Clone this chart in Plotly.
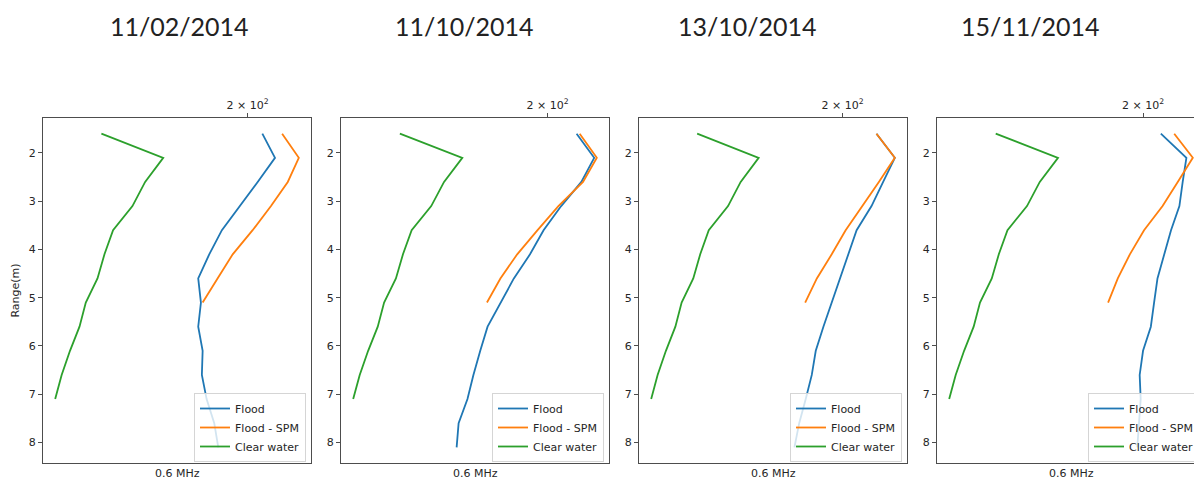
import math
import plotly.graph_objects as go

# ---- data -------------------------------------------------------------
dates = ["11/02/2014", "11/10/2014", "13/10/2014", "15/11/2014"]

depth_flood = [1.6, 2.1, 2.6, 3.1, 3.6, 4.1, 4.6, 5.1, 5.6, 6.1, 6.6, 7.1, 7.6, 8.1]
depth_spm = [1.6, 2.1, 2.6, 3.1, 3.6, 4.1, 4.6, 5.1]
depth_clear = [1.6, 2.1, 2.6, 3.1, 3.6, 4.1, 4.6, 5.1, 5.6, 6.1, 6.6, 7.1]

clear_water = [128.9, 155.2, 147.0, 141.5, 133.5, 130.1, 127.4, 123.0, 120.7, 117.3, 114.4, 112.2]

flood_0211 = [209.0, 217.1, 206.1, 195.1, 185.1, 178.2, 172.4, 173.8, 172.4, 174.7, 174.3, 176.8, 180.9, 183.1]
spm_0211 = [221.8, 233.2, 225.6, 214.5, 203.0, 191.2, 182.7, 174.7]

flood_1110 = [218.0, 229.7, 221.1, 208.2, 197.6, 189.8, 180.9, 173.8, 167.3, 163.7, 160.4, 157.6, 153.5, 152.6]
spm_1110 = [220.0, 231.5, 222.2, 206.5, 194.1, 182.7, 173.8, 167.0]

flood_1310 = [221.5, 234.1, 226.0, 218.2, 208.6, 203.4, 198.4, 193.1, 188.7, 184.4, 182.2, 178.9, 175.4, 172.9]
spm_1310 = [221.5, 234.1, 223.1, 212.2, 201.8, 193.5, 185.0, 178.6]

flood_1511 = [210.9, 227.6, 225.1, 222.9, 217.4, 213.0, 208.8, 206.7, 204.7, 200.0, 198.0, 198.6, 197.6, 196.6]
spm_1511 = [219.5, 232.0, 221.8, 212.0, 200.6, 192.3, 185.5, 180.2]

x_tick_vals = [200]
x_tick_text = ["2 \u00d7 10<sup>2</sup>"]
y_tick_vals = [2, 3, 4, 5, 6, 7, 8]
series_names = ["Flood", "Flood - SPM", "Clear water"]
freq_label = "0.6 MHz"
y_title = "Range(m)"

# ---- layout constants ---------------------------------------------------
W, H = 1194, 479
COLORS = ["#1f77b4", "#ff7f0e", "#2ca02c"]
AX_FONT = dict(family="DejaVu Sans", size=11, color="#262626")
LINE_COLOR = "#4d4d4d"
box_left = [43, 341, 639, 937]
box_w = 268
box_top, box_bottom = 118, 463
title_centres = [180, 464, 747, 1030]

panels = [
    (flood_0211, spm_0211),
    (flood_1110, spm_1110),
    (flood_1310, spm_1310),
    (flood_1511, spm_1511),
]

# y range: reversed, 5 % margin around the depth span
all_depth = depth_flood + depth_spm + depth_clear
d_lo, d_hi = min(all_depth), max(all_depth)
d_pad = 0.05 * (d_hi - d_lo)
y_range = [d_hi + d_pad, d_lo - d_pad]
y_domain = [1 - box_bottom / H, 1 - box_top / H]

fig = go.Figure()
layout = {}
annotations = []

for i, (flood, spm) in enumerate(panels):
    n = i + 1
    sfx = "" if n == 1 else str(n)
    leg = "legend" + sfx

    for name, xs, ys, color in zip(series_names,
                                   [flood, spm, clear_water],
                                   [depth_flood, depth_spm, depth_clear],
                                   COLORS):
        fig.add_trace(go.Scatter(
            x=xs, y=ys, mode="lines", name=name,
            line=dict(color=color, width=1.8),
            xaxis="x" + sfx, yaxis="y" + sfx, legend=leg,
        ))

    # log-space autoscale with 5 % margins
    vals = flood + spm + clear_water
    lo, hi = math.log10(min(vals)), math.log10(max(vals))
    pad = 0.05 * (hi - lo)
    lo, hi = lo - pad, hi + pad

    x0 = box_left[i]
    x1 = x0 + box_w
    if x1 > W:
        hi = lo + (hi - lo) * (W - x0) / box_w
        x1 = W

    layout["xaxis" + sfx] = dict(
        type="log", range=[lo, hi], domain=[x0 / W, x1 / W],
        anchor="y" + sfx, side="top",
        tickvals=x_tick_vals, ticktext=x_tick_text,
        ticks="outside", ticklen=4, tickcolor=LINE_COLOR,
        tickfont=AX_FONT, showgrid=False, zeroline=False,
        showline=True, mirror=True, linecolor=LINE_COLOR, linewidth=1,
    )
    layout["yaxis" + sfx] = dict(
        range=y_range, domain=y_domain, anchor="x" + sfx,
        tickvals=y_tick_vals, ticks="outside", ticklen=4,
        tickcolor=LINE_COLOR, tickfont=AX_FONT,
        showgrid=False, zeroline=False,
        showline=True, mirror=(x1 < W), linecolor=LINE_COLOR, linewidth=1,
    )
    if n == 1:
        layout["yaxis"]["title"] = dict(text=y_title, font=AX_FONT, standoff=6)

    layout[leg] = dict(
        x=(x0 + box_w - 5) / W, xanchor="right",
        y=1 - (box_bottom - 1) / H, yanchor="bottom",
        bgcolor="rgba(255,255,255,0.8)", bordercolor="#d5d5d5", borderwidth=1,
        font=AX_FONT, itemwidth=30, tracegroupgap=0,
    )

    # date heading and frequency label
    centre = x0 + box_w / 2
    annotations.append(dict(
        text=dates[i], x=title_centres[i] / W, y=1 - 26 / H,
        xref="paper", yref="paper",
        xanchor="center", yanchor="middle", showarrow=False,
        font=dict(family="Lato", size=25, color="#222222"),
    ))
    annotations.append(dict(
        text=freq_label, x=centre / W, y=1 - 473 / H, xref="paper", yref="paper",
        xanchor="center", yanchor="middle", showarrow=False, font=AX_FONT,
    ))

fig.update_layout(
    width=W, height=H,
    margin=dict(l=0, r=0, t=0, b=0, autoexpand=False),
    paper_bgcolor="white", plot_bgcolor="white",
    annotations=annotations,
    **layout,
)

fig.write_html("out.html")
